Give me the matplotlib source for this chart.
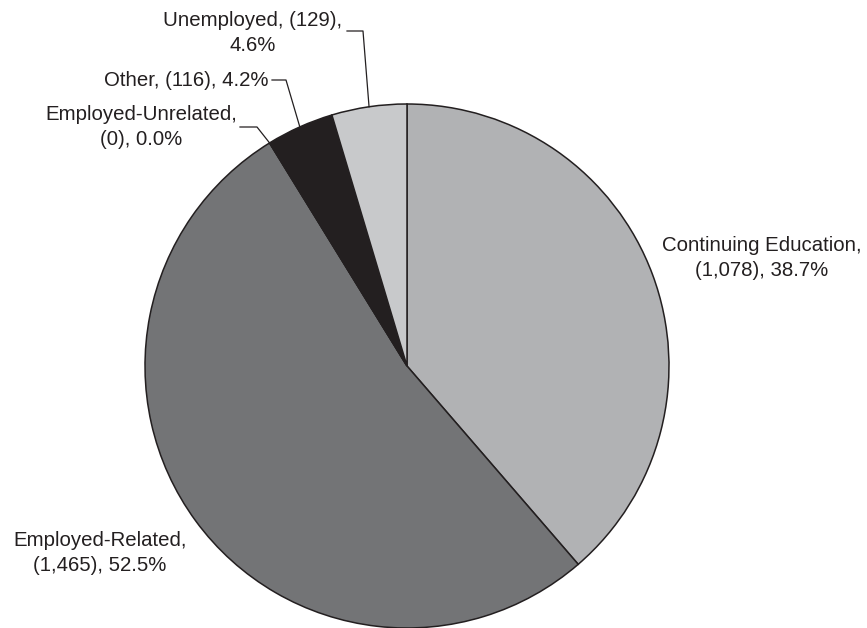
import numpy as np
import matplotlib
matplotlib.use("Agg")
import matplotlib.pyplot as plt

plt.rcParams['font.family'] = ['Liberation Sans', 'DejaVu Sans']

W, H = 867, 628

# data
categories = ["Continuing Education", "Employed-Related", "Employed-Unrelated", "Other", "Unemployed"]
counts = [1078, 1465, 0, 116, 129]
colors = ["#b1b2b4", "#737476", "#58595b", "#231f20", "#c8c9cb"]

total = sum(counts)
pcts = [100.0 * c / total for c in counts]

fig = plt.figure(figsize=(W / 100, H / 100), dpi=100)
ax = fig.add_axes([0, 0, 1, 1])

cx, cy, r = 407, H - 366, 262
wedges, _ = ax.pie(counts, colors=colors, startangle=90, counterclock=False,
                   center=(cx, cy), radius=r,
                   wedgeprops=dict(edgecolor="#231f20", linewidth=1.1))
ax.set_xlim(0, W)
ax.set_ylim(0, H)
ax.set_aspect("equal")
ax.axis("off")

ink = "#231f20"
fs = 14.7
ls = 1.35


def label_text(i, two_lines):
    name = categories[i]
    cnt = f"({counts[i]:,})"
    pct = f"{pcts[i]:.1f}%"
    if two_lines == 1:
        return f"{name}, {cnt},\n{pct}"
    if two_lines == 2:
        return f"{name},\n{cnt}, {pct}"
    return f"{name}, {cnt}, {pct}"


def edge_point(i):
    w = wedges[i]
    ang = np.deg2rad((w.theta1 + w.theta2) / 2)
    return cx + r * np.cos(ang), cy + r * np.sin(ang)


# label layout in pixel coords (x, y from top)
# Continuing Education
ax.text(762, H - 258, label_text(0, 2), ha="center", va="center", fontsize=fs,
        color=ink, linespacing=ls)
# Employed-Related
ax.text(100, H - 553, label_text(1, 2), ha="center", va="center", fontsize=fs,
        color=ink, linespacing=ls)
# Employed-Unrelated
ax.text(141, H - 127, label_text(2, 2), ha="center", va="center", fontsize=fs,
        color=ink, linespacing=ls)
# Other
ax.text(268, H - 80, label_text(3, 0), ha="right", va="center", fontsize=fs,
        color=ink)
# Unemployed
ax.text(253, H - 33, label_text(4, 1), ha="center", va="center", fontsize=fs,
        color=ink, linespacing=ls)

# leader lines: text end -> elbow -> wedge edge
leaders = [
    (2, (240, 127), (257, 127)),
    (3, (272, 80), (286, 80)),
    (4, (347, 31), (363, 31)),
]
for i, p0, p1 in leaders:
    ex, ey = edge_point(i)
    ax.plot([p0[0], p1[0], ex], [H - p0[1], H - p1[1], ey], color=ink, lw=0.9)

fig.savefig("out.png", dpi=100, facecolor="white")
